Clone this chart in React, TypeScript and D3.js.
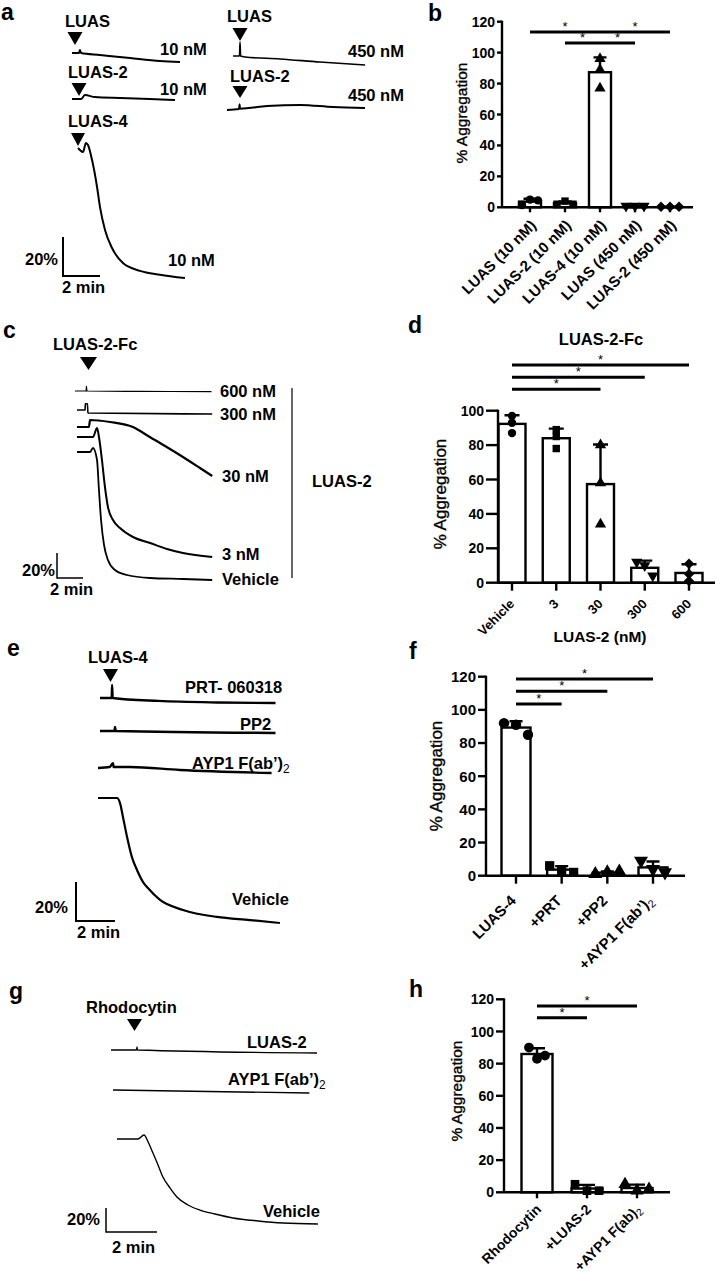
import React from 'react';
import * as d3 from 'd3';

const W = 720;
const H = 1274;
const FONT = "'Liberation Sans', Arial, Helvetica, sans-serif";

type Pt = [number, number];
type Sig = [number, number, number];

// ---------- aggregation traces: [minutes after start, % aggregation] ----------
const aLuas10: Pt[] = [[0, 0], [0.38, 0], [0.43, -1.5], [0.49, 0], [1.51, 1.0], [3.14, 2.6], [4.76, 4.1], [5.84, 4.6]];
const aLuas2_10: Pt[] = [[0, 0], [0.5, 0], [0.7, -2], [1.24, -1], [2.6, -0.5], [4.2, 0], [5.57, 0.5]];
const aLuas4_10: Pt[] = [[0, 0], [0.27, 2], [0.43, -2.6], [0.54, -1.5], [0.76, 6.2], [1.03, 20], [1.19, 30.3], [1.46, 42], [1.84, 51.3], [2.43, 59], [3.35, 63], [4.43, 65], [5.78, 66.7]];
const aLuas450: Pt[] = [[0, 0], [0.35, 0], [0.38, -7.2], [0.41, 0], [0.65, 0.5], [2.54, 1.5], [4.7, 3.1], [7.14, 4.6]];
const aLuas2_450: Pt[] = [[0, 0], [0.65, -0.5], [0.68, -3], [0.7, -0.7], [2.16, -2], [3.95, -2.6], [5.73, -1.5], [7.46, -1]];

const c600: Pt[] = [[0, 0], [0.85, 0], [0.88, -4], [0.92, 0], [5, 0.3], [10.5, 0.5]];
const c300: Pt[] = [[0, 0], [0.62, 0], [0.64, -5], [0.8, -5], [0.84, 2.4], [10.4, 3.2]];
const c30: Pt[] = [[0, 0], [0.92, 0], [1.0, -5.6], [2.54, -4], [4.3, 0], [5.6, 8], [6.9, 16], [8.15, 24], [9.46, 32.8], [10.4, 39.2]];
const c3: Pt[] = [[0, 0], [1.23, 0], [1.54, -7.2], [1.69, 0], [1.92, 18.4], [2.15, 40], [2.38, 56], [2.77, 66.4], [3.31, 72.8], [4.31, 80], [5.62, 84.8], [6.92, 89.6], [8.15, 92.8], [10.4, 96]];
const cVeh: Pt[] = [[0, 0], [1.0, 0], [1.23, -3.2], [1.54, 6.4], [1.69, 30.4], [1.85, 54.4], [2.08, 74.4], [2.38, 86.4], [2.92, 94.4], [3.85, 98.4], [5.62, 100.8], [8.15, 101.6], [10.4, 102.4]];

const ePrt: Pt[] = [[0, 0], [0.6, 0], [0.62, -6.7], [0.65, 0], [3, 1.5], [6, 2.3], [9, 2.6]];
const ePp2: Pt[] = [[0, 0], [0.75, 0], [0.77, -2], [0.8, 0], [9, 1]];
const eAyp1: Pt[] = [[0, 0], [0.6, -0.5], [0.77, -2.5], [0.8, -0.5], [1.64, -0.5], [4.2, 1], [8.9, 2.6]];
const eVeh: Pt[] = [[0, 0], [0.97, 0], [1.13, 2.6], [1.28, 9.7], [1.49, 20], [1.74, 30.3], [2.0, 36.9], [2.31, 43.1], [2.56, 46.2], [3.18, 52.3], [4.36, 57.4], [6.1, 61], [7.79, 62.6], [9.33, 64.1]];

const gLuas2: Pt[] = [[0, 0], [1.0, 0], [1.02, -2.5], [1.04, 0], [8.08, 2.5]];
const gAyp1: Pt[] = [[0, 0], [7.7, 2.5]];
const gVeh: Pt[] = [[0, 0], [0.82, 0], [1.06, -3.3], [1.22, 2.5], [1.41, 11.7], [1.61, 21.7], [1.8, 31.7], [2.08, 40.8], [2.35, 48.3], [2.78, 55], [3.25, 59.2], [3.84, 62.5], [4.55, 65.8], [5.53, 68.3], [6.51, 70], [7.88, 70.8]];

// ---------- bar charts: % aggregation, n = 3 ----------
const bCats = ['LUAS (10 nM)', 'LUAS-2 (10 nM)', 'LUAS-4 (10 nM)', 'LUAS (450 nM)', 'LUAS-2 (450 nM)'];
const bPoints = [[1.5, 5, 4.5], [2, 4, 2], [96, 89, 77], [0.8, 0.8, 0.8], [0.4, 0.4, 0.4]];
const bShapes = ['circle', 'square', 'triangle', 'triangleDown', 'diamond'];
const bSig: Sig[] = [[0, 2, 113.3], [2, 4, 113.3], [1, 2, 106.2], [2, 3, 106.2]];

const dCats = ['Vehicle', '3', '30', '300', '600'];
const dPoints = [[97, 93, 87], [89, 85, 78], [80, 58, 34], [12, 10, 4], [11, 5, 1]];
const dShapes = ['circle', 'square', 'triangle', 'triangleDown', 'diamond'];
const dSig: Sig[] = [[0, 4, 126.6], [0, 3, 119.4], [0, 2, 112.4]];

const fCats = ['LUAS-4', '+PRT', '+PP2', '+AYP1 F(ab’)2'];
const fPoints = [[92, 91, 85], [6, 3, 2], [1, 2, 2.5], [9, 4, 2]];
const fShapes = ['circle', 'square', 'triangle', 'triangleDown'];
const fSig: Sig[] = [[0, 3, 118.6], [0, 2, 111.2], [0, 1, 103.6]];

const hCats = ['Rhodocytin', '+LUAS-2', '+AYP1 F(ab)2'];
const hPoints = [[90, 83, 85], [5, 1, 1], [5, 1, 2]];
const hShapes = ['circle', 'square', 'triangle'];
const hSig: Sig[] = [[0, 2, 115.9], [0, 1, 108.6]];

// text with a trailing subscript "2" after ")"
function Txt({ s }: { s: string }) {
  const m = s.match(/^(.*\))2$/);
  if (m) {
    return (
      <>
        {m[1]}
        <tspan dy="0.32em" fontSize="72%" fontWeight="normal">2</tspan>
      </>
    );
  }
  return <>{s}</>;
}

const symbolTypes: Record<string, d3.SymbolType> = {
  circle: d3.symbolCircle,
  square: d3.symbolSquare,
  triangle: d3.symbolTriangle,
  triangleDown: d3.symbolTriangle,
  diamond: d3.symbolSquare,
};
const symbolRot: Record<string, number> = { circle: 0, square: 0, triangle: 0, triangleDown: 180, diamond: 45 };

type TraceDef = { data: Pt[]; x0: number; y0: number; sw: number };
type LabelDef = { text: string; x: number; y: number; anchor?: string };
type TriDef = { x: number; y: number; w: number; h: number };

type TraceProps = {
  traces: TraceDef[];
  minPx: number; // px for 2 min
  pctPx: number; // px for 20 %
  corner: [number, number];
  barSw: number;
  labels: LabelDef[];
  triangles: TriDef[];
};

function TracePanel({ traces, minPx, pctPx, corner, barSw, labels, triangles }: TraceProps) {
  const tx = d3.scaleLinear().domain([0, 2]).range([0, minPx]);
  const ty = d3.scaleLinear().domain([0, 20]).range([0, pctPx]);
  return (
    <g>
      {traces.map((t, i) => {
        const line = d3.line<Pt>()
          .x(d => t.x0 + tx(d[0]))
          .y(d => t.y0 + ty(d[1]))
          .curve(d3.curveMonotoneX);
        return <path key={i} d={line(t.data) ?? ''} fill="none" stroke="#000" strokeWidth={t.sw} strokeLinejoin="round" />;
      })}
      {triangles.map((tr, i) => (
        <path key={i} d={`M${tr.x - tr.w / 2},${tr.y}L${tr.x + tr.w / 2},${tr.y}L${tr.x},${tr.y + tr.h}Z`} fill="#000" />
      ))}
      <path
        d={`M${corner[0]},${corner[1] - ty(20)}V${corner[1]}H${corner[0] + tx(2)}`}
        fill="none" stroke="#000" strokeWidth={barSw}
      />
      {labels.map((l, i) => (
        <text key={i} x={l.x} y={l.y} fontSize={16.5} fontWeight="bold" textAnchor={l.anchor ?? 'start'}>
          <Txt s={l.text} />
        </text>
      ))}
    </g>
  );
}

type BarProps = {
  cats: string[];
  points: number[][];
  shapes: string[];
  sig: Sig[];
  yMax: number;
  axisX: number;
  axisEnd: number;
  yZero: number;
  yTop: number;
  c0: number;
  c1: number;
  barW: number;
  tickLen: number;
  xTickLen: number;
  tickFont: number;
  catFont: number;
  catDx: number;
  catDy: number;
  markerSize: number;
  spread: number[];
  capW: number;
  yLabel: [number, number, number];
};

function BarPanel(p: BarProps) {
  const y = d3.scaleLinear().domain([0, p.yMax]).range([p.yZero, p.yTop]);
  const x = d3.scalePoint<string>().domain(p.cats).range([p.c0, p.c1]);
  const ticks = d3.range(0, p.yMax + 1, 20);
  const sw = 2.4;
  return (
    <g>
      {p.cats.map((c, i) => {
        const pts = p.points[i];
        const mean = d3.mean(pts) ?? 0;
        const sd = d3.deviation(pts) ?? 0;
        const cx = x(c) ?? 0;
        return (
          <g key={c}>
            <rect x={cx - p.barW / 2} y={y(mean)} width={p.barW} height={Math.max(0, y(0) - y(mean))}
              fill="#fff" stroke="#000" strokeWidth={sw} />
            {sd > 0.2 && (
              <path d={`M${cx},${y(mean)}V${y(mean + sd)}M${cx - p.capW / 2},${y(mean + sd)}H${cx + p.capW / 2}`}
                stroke="#000" strokeWidth={sw} fill="none" />
            )}
            {pts.map((v, k) => {
              const dx = (k - 1) * p.spread[i];
              const sym = d3.symbol().type(symbolTypes[p.shapes[i]]).size(p.markerSize)();
              return (
                <path key={k} d={sym ?? ''} fill="#000"
                  transform={`translate(${cx + dx},${y(v)}) rotate(${symbolRot[p.shapes[i]]})`} />
              );
            })}
          </g>
        );
      })}
      {/* y axis */}
      <line x1={p.axisX} x2={p.axisX} y1={y(p.yMax) - 1} y2={y(0)} stroke="#000" strokeWidth={sw} />
      {ticks.map(t => (
        <g key={t}>
          <line x1={p.axisX - p.tickLen} x2={p.axisX} y1={y(t)} y2={y(t)} stroke="#000" strokeWidth={sw} />
          <text x={p.axisX - p.tickLen - 2} y={y(t)} dy="0.36em" textAnchor="end" fontSize={p.tickFont} fontWeight="bold">{t}</text>
        </g>
      ))}
      {/* x axis */}
      <line x1={p.axisX} x2={p.axisEnd} y1={y(0)} y2={y(0)} stroke="#000" strokeWidth={sw} />
      {p.cats.map(c => {
        const cx = x(c) ?? 0;
        return (
          <g key={c}>
            <line x1={cx} x2={cx} y1={y(0)} y2={y(0) + p.xTickLen} stroke="#000" strokeWidth={sw} />
            <text transform={`translate(${cx + p.catDx},${y(0) + p.catDy}) rotate(-45)`} textAnchor="end"
              fontSize={p.catFont} fontWeight="bold"><Txt s={c} /></text>
          </g>
        );
      })}
      {/* significance */}
      {p.sig.map(([a, b, v], i) => {
        const xa = x(p.cats[a]) ?? 0;
        const xb = x(p.cats[b]) ?? 0;
        return (
          <g key={i}>
            <line x1={xa} x2={xb} y1={y(v)} y2={y(v)} stroke="#000" strokeWidth={3} />
            <text x={(xa + xb) / 2} y={y(v) - 1} textAnchor="middle" fontSize={13}>*</text>
          </g>
        );
      })}
      <text transform={`translate(${p.yLabel[0]},${p.yLabel[1]}) rotate(-90)`} textAnchor="middle" dy="0.36em"
        fontSize={p.yLabel[2]} stroke="#000" strokeWidth={0.35}>% Aggregation</text>
    </g>
  );
}

const letters: [string, number, number][] = [
  ['a', 1, 20], ['b', 428, 21], ['c', 3, 338], ['d', 408, 333],
  ['e', 7, 656], ['f', 409, 659], ['g', 9, 999], ['h', 409, 997],
];

export default function App() {
  return (
    <div style={{ position: 'absolute', left: 0, top: 0, width: W, height: H, background: '#fff' }}>
      <svg width={W} height={H} viewBox={`0 0 ${W} ${H}`} fontFamily={FONT}>
        <rect width={W} height={H} fill="#fff" />
        {letters.map(([l, x, yy]) => (
          <text key={l} x={x} y={yy} fontSize={23} fontWeight="bold">{l}</text>
        ))}

        {/* a */}
        <TracePanel
          traces={[
            { data: aLuas10, x0: 72, y0: 53, sw: 2 },
            { data: aLuas2_10, x0: 72, y0: 99, sw: 2 },
            { data: aLuas4_10, x0: 78, y0: 148, sw: 2 },
            { data: aLuas450, x0: 233, y0: 56, sw: 1.6 },
            { data: aLuas2_450, x0: 227, y0: 110, sw: 2 },
          ]}
          minPx={37} pctPx={39} corner={[63, 276]} barSw={2}
          triangles={[
            { x: 75, y: 32, w: 15, h: 13 }, { x: 79, y: 83, w: 15, h: 13 }, { x: 78, y: 133, w: 14, h: 13 },
            { x: 240, y: 28, w: 15, h: 13 }, { x: 240, y: 86, w: 15, h: 12 },
          ]}
          labels={[
            { text: 'LUAS', x: 65, y: 27 }, { text: '10 nM', x: 160, y: 55 },
            { text: 'LUAS-2', x: 68, y: 78 }, { text: '10 nM', x: 160, y: 95 },
            { text: 'LUAS-4', x: 68, y: 127 }, { text: '10 nM', x: 168, y: 266 },
            { text: 'LUAS', x: 227, y: 22 }, { text: '450 nM', x: 348, y: 57 },
            { text: 'LUAS-2', x: 230, y: 82 }, { text: '450 nM', x: 348, y: 101 },
            { text: '20%', x: 58, y: 265, anchor: 'end' }, { text: '2 min', x: 62, y: 293 },
          ]}
        />

        {/* c */}
        <TracePanel
          traces={[
            { data: c600, x0: 75, y0: 391, sw: 1.2 },
            { data: c300, x0: 77, y0: 410, sw: 1.6 },
            { data: c30, x0: 77, y0: 427, sw: 2.2 },
            { data: c3, x0: 77, y0: 437, sw: 2 },
            { data: cVeh, x0: 77, y0: 452, sw: 1.8 },
          ]}
          minPx={26} pctPx={25} corner={[57, 578]} barSw={1.5}
          triangles={[{ x: 88.5, y: 357, w: 17, h: 13 }]}
          labels={[
            { text: 'LUAS-2-Fc', x: 53, y: 350 },
            { text: '600 nM', x: 220, y: 397 }, { text: '300 nM', x: 220, y: 420 },
            { text: '30 nM', x: 222, y: 482 }, { text: '3 nM', x: 222, y: 560 },
            { text: 'Vehicle', x: 222, y: 585 }, { text: 'LUAS-2', x: 312, y: 487 },
            { text: '20%', x: 55, y: 576, anchor: 'end' }, { text: '2 min', x: 50, y: 595 },
          ]}
        />
        <line x1={292} x2={292} y1={388} y2={578} stroke="#000" strokeWidth={1.2} />

        {/* e */}
        <TracePanel
          traces={[
            { data: ePrt, x0: 100, y0: 698, sw: 2.4 },
            { data: ePp2, x0: 100, y0: 731, sw: 2.6 },
            { data: eAyp1, x0: 98, y0: 768, sw: 2.4 },
            { data: eVeh, x0: 98, y0: 798, sw: 2.2 },
          ]}
          minPx={39} pctPx={39} corner={[76, 921]} barSw={2}
          triangles={[{ x: 110.5, y: 669, w: 15, h: 13 }]}
          labels={[
            { text: 'LUAS-4', x: 88, y: 663 }, { text: 'PRT- 060318', x: 185, y: 693 },
            { text: 'PP2', x: 240, y: 730 }, { text: 'AYP1 F(ab’)2', x: 192, y: 769 },
            { text: 'Vehicle', x: 232, y: 905 },
            { text: '20%', x: 68, y: 913, anchor: 'end' }, { text: '2 min', x: 77, y: 938 },
          ]}
        />

        {/* g */}
        <TracePanel
          traces={[
            { data: gLuas2, x0: 111, y0: 1050, sw: 1.3 },
            { data: gAyp1, x0: 113, y0: 1090, sw: 1.4 },
            { data: gVeh, x0: 117, y0: 1139, sw: 1.4 },
          ]}
          minPx={51} pctPx={24} corner={[106, 1232]} barSw={1.5}
          triangles={[{ x: 134.5, y: 1019, w: 15, h: 12 }]}
          labels={[
            { text: 'Rhodocytin', x: 86, y: 1013 }, { text: 'LUAS-2', x: 247, y: 1048 },
            { text: 'AYP1 F(ab’)2', x: 228, y: 1085 }, { text: 'Vehicle', x: 263, y: 1217 },
            { text: '20%', x: 100, y: 1225, anchor: 'end' }, { text: '2 min', x: 112, y: 1253 },
          ]}
        />

        {/* b */}
        <BarPanel cats={bCats} points={bPoints} shapes={bShapes} sig={bSig} yMax={120}
          axisX={502} axisEnd={693} yZero={207.3} yTop={21.7} c0={530} c1={670} barW={22}
          tickLen={5} xTickLen={5} tickFont={14} catFont={15} catDx={7} catDy={19}
          markerSize={55} spread={[8, 8, 0, 9, 9]} capW={13} yLabel={[461, 113, 15.5]} />

        {/* d */}
        <BarPanel cats={dCats} points={dPoints} shapes={dShapes} sig={dSig} yMax={100}
          axisX={498} axisEnd={715} yZero={582.7} yTop={410.7} c0={512} c1={689} barW={27}
          tickLen={12} xTickLen={8} tickFont={14} catFont={13} catDx={3} catDy={22}
          markerSize={55} spread={[0, 0, 0, 8, 0]} capW={15} yLabel={[440, 494, 17]} />
        <text x={601} y={345} textAnchor="middle" fontSize={16.5} fontWeight="bold">LUAS-2-Fc</text>
        <text x={600} y={642} textAnchor="middle" fontSize={15.5} fontWeight="bold">LUAS-2 (nM)</text>

        {/* f */}
        <BarPanel cats={fCats} points={fPoints} shapes={fShapes} sig={fSig} yMax={120}
          axisX={486} axisEnd={685} yZero={875.7} yTop={676.7} c0={516} c1={653} barW={29}
          tickLen={8} xTickLen={8} tickFont={15} catFont={15} catDx={1} catDy={26}
          markerSize={85} spread={[12, 12, 12, 12]} capW={13} yLabel={[436, 776, 17]} />

        {/* h */}
        <BarPanel cats={hCats} points={hPoints} shapes={hShapes} sig={hSig} yMax={120}
          axisX={504} axisEnd={670} yZero={1192.3} yTop={999.3} c0={537} c1={637} barW={31}
          tickLen={8} xTickLen={6} tickFont={14} catFont={14} catDx={5} catDy={18}
          markerSize={75} spread={[8, 12, 12]} capW={16} yLabel={[456, 1091, 15.5]} />
      </svg>
    </div>
  );
}
